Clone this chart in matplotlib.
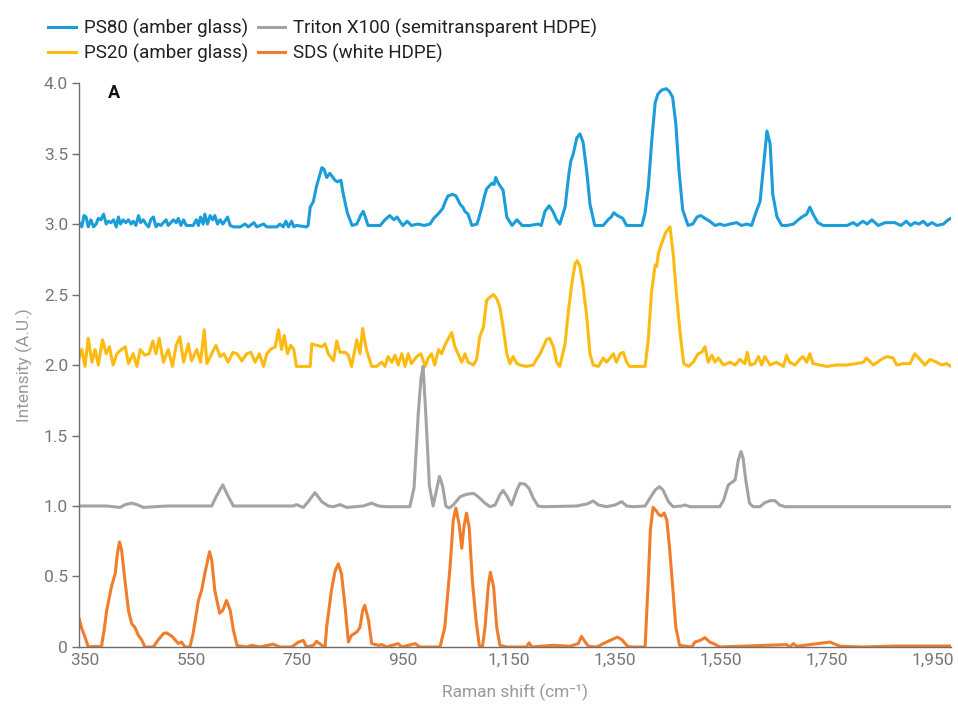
import matplotlib
matplotlib.use("Agg")
import matplotlib.pyplot as plt
from matplotlib.ticker import FuncFormatter, MultipleLocator

plt.rcParams['font.family'] = ['Roboto', 'DejaVu Sans']

# PS80 (amber glass), offset +3
ps80_x = [339, 344, 348, 352, 356, 361, 366, 371, 375, 380, 385, 390, 394, 399, 404, 409,
          413, 417, 422, 427, 432, 437, 441, 446, 451, 455, 460, 465, 470, 474, 479, 484,
          488, 493, 498, 503, 507, 512, 517, 522, 526, 531, 536, 541, 545, 549, 554, 560,
          564, 568, 573, 576, 581, 586, 591, 595, 600, 605, 610, 614, 619, 624, 630, 643,
          652, 658, 669, 674, 687, 693, 712, 718, 724, 729, 734, 740, 744, 749, 768,
          771, 775, 781, 787, 797, 801, 806, 812, 816, 822, 826, 833, 837, 845, 854, 863,
          870, 875, 879, 884, 907, 916, 925, 933, 939, 944, 950, 958, 966, 978, 990, 1001,
          1008, 1016, 1025, 1030, 1035, 1044, 1050, 1058, 1063, 1067, 1073, 1080, 1090,
          1099, 1104, 1108, 1118, 1122, 1125, 1130, 1139, 1146, 1156, 1165, 1170, 1175,
          1190, 1205, 1211, 1218, 1226, 1233, 1240, 1246, 1256, 1263, 1267, 1271, 1278,
          1284, 1290, 1297, 1303, 1312, 1328, 1337, 1343, 1348, 1355, 1365, 1372, 1401,
          1407, 1413, 1420, 1426, 1431, 1438, 1447, 1453, 1459, 1465, 1471, 1478, 1488,
          1497, 1505, 1512, 1520, 1529, 1539, 1548, 1557, 1567, 1580, 1589, 1599, 1608,
          1616, 1624, 1630, 1637, 1643, 1648, 1656, 1665, 1675, 1687, 1696, 1703, 1712,
          1718, 1724, 1733, 1743, 1788, 1800, 1807, 1818, 1826, 1835, 1847, 1860, 1878,
          1890, 1900, 1908, 1916, 1924, 1932, 1940, 1948, 1958, 1970, 1979, 1984]
ps80_y = [3.01, 2.98, 3.06, 3.05, 2.98, 3.03, 2.98, 3.00, 3.04, 3.03, 3.07, 3.00, 3.02, 3.01,
          3.03, 2.98, 3.05, 3.00, 3.03, 3.01, 3.03, 3.00, 3.02, 2.99, 3.06, 3.01, 3.03, 3.00,
          2.98, 3.03, 3.05, 2.98, 3.00, 2.99, 3.01, 3.03, 2.99, 3.01, 3.03, 3.01, 3.04, 2.99,
          3.03, 2.99, 2.99, 2.99, 2.99, 3.03, 2.99, 3.05, 3.00, 3.07, 3.00, 3.06, 3.03, 3.06,
          3.00, 3.03, 3.00, 3.02, 3.05, 2.99, 2.98, 2.98, 3.00, 2.98, 3.01, 2.98, 3.00, 2.98,
          2.98, 3.00, 2.98, 3.02, 2.98, 3.02, 2.98, 2.99, 2.98,
          2.99, 3.12, 3.16, 3.27, 3.40, 3.39, 3.33, 3.36, 3.34, 3.31, 3.30, 3.31, 3.22, 3.08,
          2.99, 3.00, 3.06, 3.09, 3.05, 2.99, 2.99, 3.03, 3.06, 3.03, 3.05, 3.02, 2.99, 3.02,
          2.99, 3.00, 2.99, 3.00, 3.04, 3.07, 3.11, 3.16, 3.20, 3.21, 3.20, 3.14, 3.12, 3.09,
          3.07, 2.99, 3.00, 3.12, 3.20, 3.25, 3.29, 3.28, 3.33, 3.29, 3.24, 3.05, 2.99, 3.03,
          3.01, 2.99, 2.99, 3.00, 2.99, 3.09, 3.13, 3.09, 3.03, 3.00, 3.12, 3.35, 3.45, 3.49,
          3.61, 3.64, 3.58, 3.37, 3.14, 2.99, 2.99, 3.03, 3.05, 3.08, 3.06, 3.04, 2.99, 2.99,
          3.08, 3.26, 3.61, 3.86, 3.92, 3.95, 3.96, 3.94, 3.90, 3.71, 3.38, 3.10, 2.99, 3.00,
          3.05, 3.06, 3.04, 3.02, 2.99, 3.00, 2.99, 3.00, 3.01, 2.99, 3.00, 2.99, 3.08, 3.16,
          3.39, 3.66, 3.57, 3.21, 3.05, 2.99, 2.99, 3.00, 3.03, 3.05, 3.07, 3.12, 3.07, 3.01,
          2.99, 2.99, 3.01, 2.99, 3.02, 3.00, 3.03, 2.99, 3.01, 3.01, 2.99, 3.02, 2.99, 3.01,
          3.00, 3.02, 2.99, 3.01, 2.99, 3.00, 3.03, 3.04]

# PS20 (amber glass), offset +2
ps20_x = [339, 344, 350, 356, 363, 369, 375, 383, 390, 396, 403, 410, 419, 426, 432, 441,
          448, 454, 463, 471, 478, 484, 490, 498, 507, 515, 522, 529, 536, 545, 551, 561,
          568, 575, 580, 589, 597, 605, 612, 620, 629, 637, 646, 655, 663, 671, 679, 687,
          693, 700, 709, 715, 721, 726, 732, 738, 744, 749, 775, 778, 787, 797, 803, 809,
          819, 825, 831, 841, 847, 853, 863, 869, 874, 881, 891, 900, 910, 916, 922, 929,
          935, 941, 948, 954, 960, 966, 976, 984, 992, 998, 1004, 1010, 1017, 1023, 1029,
          1036, 1042, 1048, 1054, 1061, 1067, 1073, 1083, 1089, 1095, 1102, 1108, 1114,
          1121, 1127, 1133, 1139, 1146, 1152, 1158, 1165, 1171, 1183, 1196, 1202, 1209,
          1215, 1221, 1227, 1234, 1240, 1246, 1256, 1262, 1268, 1275, 1279, 1284, 1290,
          1297, 1303, 1309, 1319, 1328, 1334, 1341, 1347, 1353, 1360, 1366, 1372, 1378,
          1404, 1407, 1413, 1419, 1426, 1429, 1432, 1438, 1446, 1454, 1460, 1466, 1473,
          1480, 1489, 1498, 1507, 1514, 1520, 1526, 1533, 1539, 1545, 1555, 1567, 1577,
          1586, 1595, 1600, 1605, 1614, 1621, 1627, 1633, 1643, 1655, 1668, 1674, 1680,
          1690, 1699, 1705, 1712, 1718, 1724, 1737, 1750, 1768, 1787, 1806, 1819, 1825,
          1838, 1853, 1863, 1875, 1882, 1894, 1907, 1916, 1926, 1935, 1945, 1957, 1967,
          1976, 1984]
ps20_y = [2.05, 2.11, 1.99, 2.19, 2.02, 2.11, 2.00, 2.18, 2.08, 2.13, 2.00, 2.08, 2.11, 2.13,
          2.01, 2.08, 1.99, 2.11, 2.07, 2.08, 2.17, 2.08, 2.19, 2.02, 2.11, 1.99, 2.14, 2.20,
          2.02, 2.15, 2.03, 2.11, 2.02, 2.25, 2.01, 2.08, 2.14, 2.06, 2.08, 2.02, 2.09, 2.08,
          2.03, 2.08, 2.09, 2.02, 2.08, 1.99, 2.08, 2.11, 2.13, 2.25, 2.11, 2.21, 2.08, 2.14,
          2.11, 1.99, 1.99, 2.15, 2.14, 2.13, 2.15, 2.08,
          2.03, 2.17, 2.09, 2.09, 2.07, 1.99, 2.18, 2.08, 2.26, 2.11, 1.99, 1.99, 2.02, 1.99,
          2.06, 2.02, 2.07, 2.00, 2.08, 1.99, 2.08, 2.01, 2.06, 2.08, 1.99, 2.05, 2.08, 2.00,
          2.11, 2.08, 2.14, 2.19, 2.23, 2.13, 2.08, 2.02, 2.08, 2.02, 2.00, 2.04, 2.20, 2.27,
          2.46, 2.48, 2.50, 2.47, 2.41, 2.27, 2.08, 2.01, 2.06, 2.01, 2.00, 1.99, 2.00, 2.04,
          2.08, 2.13, 2.18, 2.19, 2.13, 2.02, 1.99, 2.15, 2.37, 2.56, 2.72, 2.74, 2.70, 2.56,
          2.34, 2.08, 2.00, 1.99, 2.05, 2.02, 2.05, 2.08, 2.02, 2.08, 2.09, 2.02, 1.99,
          1.99, 1.99, 2.18, 2.51, 2.71, 2.70, 2.79, 2.86, 2.94, 2.98, 2.79, 2.51, 2.23,
          2.01, 1.99, 2.02, 2.08, 2.09, 2.13, 2.02, 2.07, 2.02, 2.05, 2.00, 2.02, 2.00,
          2.04, 2.01, 2.09, 2.00, 2.01, 2.06, 2.00, 2.06, 2.00, 2.02, 1.99, 2.07, 2.02,
          2.00, 2.04, 2.06, 2.02, 2.08, 2.01, 2.00, 1.99, 2.00, 2.00, 2.01, 2.02, 2.05,
          2.00, 2.04, 2.06, 2.05, 2.00, 2.01, 2.01, 2.08, 2.04, 2.00, 2.04, 2.02, 2.00,
          2.01, 1.99]

# Triton X100 (semitransparent HDPE), offset +1
triton_x = [339, 378, 391, 416, 426, 438, 448, 460, 504, 542, 589, 598, 610, 620, 630, 693,
            743, 749, 762, 771, 784, 797, 809, 819, 831, 844, 875, 891, 904, 919, 963, 971,
            979, 984, 988, 993, 1000, 1007, 1012, 1019, 1025, 1031, 1037, 1045, 1058, 1070,
            1083, 1092, 1105, 1114, 1124, 1133, 1139, 1147, 1155, 1165, 1171, 1180, 1188,
            1196, 1205, 1215, 1278, 1287, 1297, 1309, 1319, 1334, 1350, 1363, 1372, 1385,
            1407, 1416, 1426, 1434, 1441, 1451, 1460, 1476, 1482, 1492, 1548, 1555, 1564,
            1570, 1577, 1583, 1588, 1592, 1597, 1604, 1611, 1624, 1633, 1643, 1652, 1661,
            1671, 1756, 1984]
triton_y = [1.00, 1.00, 1.00, 0.99, 1.01, 1.02, 1.01, 0.99, 1.00, 1.00, 1.00, 1.07, 1.15,
            1.07, 1.00, 1.00, 1.00, 1.01, 0.99, 1.03, 1.095, 1.03, 1.00, 0.995, 1.01, 0.99,
            1.00, 1.02, 1.00, 0.995, 0.995, 1.13, 1.66, 1.90, 1.99, 1.66, 1.14, 1.00, 1.09,
            1.21, 1.14, 1.00, 0.985, 1.007, 1.066, 1.083, 1.09, 1.066, 1.02, 0.995, 1.007,
            1.08, 1.11, 1.066, 1.007, 1.113, 1.16, 1.156, 1.125, 1.055, 1.00, 0.995, 1.00,
            1.007, 1.014, 1.036, 1.007, 0.995, 1.007, 1.031, 1.00, 0.995, 1.00, 1.055,
            1.113, 1.137, 1.113, 1.031, 0.995, 1.00, 1.007, 0.995, 0.995, 1.04, 1.149,
            1.166, 1.185, 1.327, 1.386, 1.338, 1.185, 1.02, 0.995, 0.995, 1.024, 1.038,
            1.038, 1.007, 0.995, 0.995, 0.995]

# SDS (white HDPE), no offset
sds_x = [339, 344, 350, 356, 372, 381, 386, 391, 400, 407, 411, 415, 419, 426, 432, 438,
         444, 451, 457, 463, 479, 488, 498, 504, 514, 520, 526, 532, 539, 548, 554, 564,
         570, 576, 585, 589, 595, 604, 610, 617, 624, 630, 637, 655, 665, 680, 705, 718,
         740, 753, 762, 768, 781, 787, 797, 803, 806, 815, 822, 828, 834, 841, 847, 853,
         863, 869, 874, 878, 885, 891, 904, 910, 919, 941, 948, 973, 982, 1020, 1029, 1039,
         1045, 1050, 1056, 1061, 1065, 1070, 1075, 1081, 1088, 1094, 1100, 1105, 1111,
         1115, 1121, 1127, 1133, 1146, 1183, 1188, 1193, 1234, 1265, 1281, 1287, 1294,
         1300, 1316, 1328, 1341, 1355, 1363, 1372, 1378, 1407, 1413, 1417, 1422, 1427,
         1434, 1438, 1443, 1448, 1453, 1459, 1465, 1472, 1495, 1501, 1511, 1520, 1529,
         1539, 1548, 1674, 1680, 1687, 1693, 1756, 1763, 1775, 1819, 1882, 1984]
sds_y = [0.20, 0.13, 0.07, 0.00, 0.005, 0.00, 0.12, 0.26, 0.43, 0.52, 0.66, 0.745, 0.69,
         0.45, 0.26, 0.165, 0.14, 0.08, 0.05, 0.00, 0.00, 0.05, 0.095, 0.10, 0.076, 0.05,
         0.025, 0.035, 0.00, 0.00, 0.095, 0.33, 0.40, 0.52, 0.675, 0.62, 0.40, 0.24, 0.26,
         0.33, 0.26, 0.12, 0.01, 0.00, 0.012, 0.00, 0.02, 0.00, 0.00, 0.035, 0.047, 0.00,
         0.012, 0.04, 0.012, 0.00, 0.14, 0.40, 0.54, 0.59, 0.52, 0.28, 0.035, 0.083, 0.106,
         0.14, 0.26, 0.295, 0.19, 0.024, 0.012, 0.017, 0.00, 0.024, 0.00, 0.024, 0.00, 0.00,
         0.14, 0.57, 0.90, 0.985, 0.87, 0.70, 0.85, 0.95, 0.85, 0.47, 0.19, 0.012, 0.00,
         0.14, 0.43, 0.53, 0.43, 0.14, 0.012, 0.00, 0.00, 0.03, 0.00, 0.012, 0.005, 0.024,
         0.075, 0.035, 0.005, 0.00, 0.024, 0.047, 0.07, 0.052, 0.012, 0.00, 0.00, 0.47,
         0.83, 0.99, 0.97, 0.935, 0.93, 0.95, 0.90, 0.71, 0.43, 0.14, 0.012, 0.00, 0.035,
         0.047, 0.066, 0.035, 0.019, 0.00, 0.017, 0.00, 0.024, 0.005, 0.035, 0.024, 0.005,
         0.00, 0.007, 0.007]

series = [
    ("PS80 (amber glass)", ps80_x, ps80_y, "#1b9dd9"),
    ("PS20 (amber glass)", ps20_x, ps20_y, "#fdbb12"),
    ("Triton X100 (semitransparent HDPE)", triton_x, triton_y, "#a3a3a3"),
    ("SDS (white HDPE)", sds_x, sds_y, "#f07d2c"),
]

fig = plt.figure(figsize=(9.58, 7.04), dpi=100)
ax = fig.add_axes([0.0825, 0.081, 0.910, 0.801])

for label, xs, ys, color in series:
    ax.plot(xs, ys, color=color, lw=2.2, label=label, solid_joinstyle="round")

ax.set_xlim(338.7, 1984)
ax.set_ylim(0, 4.0)
ax.set_xticks(range(350, 1951, 200))
ax.xaxis.set_major_formatter(FuncFormatter(lambda v, p: f"{int(v):,}"))
ax.yaxis.set_major_locator(MultipleLocator(0.5))
ax.yaxis.set_major_formatter(FuncFormatter(lambda v, p: "0" if v == 0 else f"{v:.1f}"))

for s in ["top", "right"]:
    ax.spines[s].set_visible(False)
for s in ["left", "bottom"]:
    ax.spines[s].set_color("#6e6e6e")
    ax.spines[s].set_linewidth(1.0)
ax.tick_params(axis="y", length=5, width=1, color="#6e6e6e", labelcolor="#777777", labelsize=12.5, pad=3)
ax.tick_params(axis="x", length=0, labelcolor="#777777", labelsize=12.5, pad=4)

ax.set_xlabel("Raman shift (cm\u207b\u00b9)", color="#999999", fontsize=12.5, labelpad=12)
ax.set_ylabel("Intensity (A.U.)", color="#999999", fontsize=12.5, labelpad=8)

ax.text(0.033, 0.998, "A", transform=ax.transAxes, fontsize=13, fontweight="bold",
        color="#111111", ha="left", va="top")

fig.legend(loc="upper left", bbox_to_anchor=(0.033, 0.997), ncol=2, frameon=False,
           fontsize=13.5, handlelength=1.45, handletextpad=0.45, columnspacing=0.5,
           labelspacing=0.3, labelcolor="#222222")

fig.savefig("out.png", dpi=100)
